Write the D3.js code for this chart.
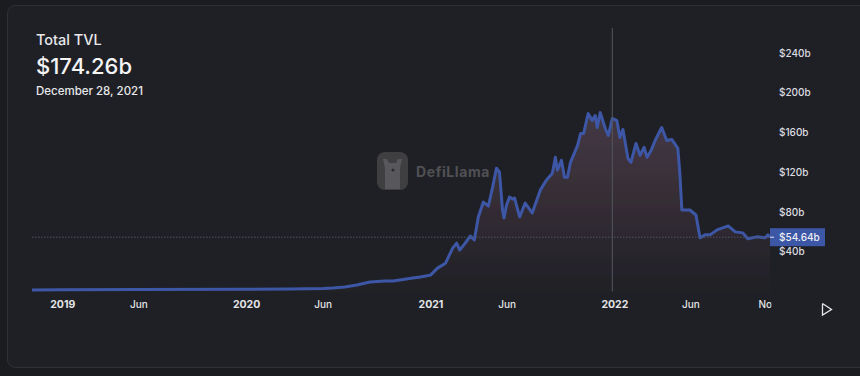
<!DOCTYPE html>
<html><head><meta charset="utf-8">
<script src="https://cdn.jsdelivr.net/npm/d3@7/dist/d3.min.js"></script>
<style>
html,body{margin:0;padding:0;background:#1b1c20;overflow:hidden}
text{font-family:Inter,"Liberation Sans",sans-serif}
</style></head><body><svg id="c" width="860" height="376"></svg>
<script>
const dates = ["2018-11-02","2019-01-01","2019-06-01","2020-01-01","2020-03-28","2020-06-02","2020-06-21","2020-07-15","2020-08-08","2020-09-03","2020-10-03","2020-10-19","2020-11-27","2020-12-12",
"2021-01-01","2021-01-07","2021-01-15","2021-01-31","2021-02-14","2021-02-22","2021-02-28","2021-03-11","2021-03-21","2021-03-29","2021-04-06","2021-04-16","2021-04-26","2021-05-04","2021-05-12","2021-05-18","2021-05-24","2021-05-27","2021-06-01","2021-06-07","2021-06-13","2021-06-17","2021-06-27","2021-07-08","2021-07-22","2021-08-07","2021-08-19","2021-08-31","2021-09-06","2021-09-10","2021-09-18","2021-09-24","2021-09-30","2021-10-06","2021-10-20","2021-10-26","2021-11-01","2021-11-10","2021-11-18","2021-11-24","2021-11-28","2021-12-04","2021-12-14","2021-12-20","2021-12-28",
"2022-01-06","2022-01-12","2022-01-18","2022-01-28","2022-02-03","2022-02-13","2022-02-21","2022-03-01","2022-03-07","2022-03-15","2022-03-23","2022-04-05","2022-04-15","2022-04-25","2022-05-07","2022-05-11","2022-05-15","2022-05-31","2022-06-12","2022-06-20","2022-06-30","2022-07-10","2022-07-24","2022-08-15","2022-08-29","2022-09-13","2022-09-23","2022-10-11","2022-10-27","2022-11-02","2022-11-06"];
const tvl = [1.5,1.7,2.0,2.2,2.5,3.0,3.5,4.5,6.5,9.5,10.5,10.5,13.5,14.5,
16.5,19.5,23.5,28.5,43.7,48.7,41.7,48.7,55.8,51.8,74.9,90,86,104,124.1,120,82,74,87,95,93,94,75,89,79,102,112,119,135,122,132,115,115,130,147,159,159,179,172,177,165,180,164,157,174.26,
172,155,163,134,130,149,137,145,135,142,152,165,152,153,144,119,82,82,77,54,57,57,62,66,60,59,53,55,54,57,54.64];
const yTicks = [40,80,120,160,200,240];
const xTickDates = ["2019-01-01","2019-06-01","2020-01-01","2020-06-01","2021-01-01","2021-06-01","2022-01-01","2022-06-01","2022-11-01"];
const xTickLabels = ["2019","Jun","2020","Jun","2021","Jun","2022","Jun","Nov"];
const title = "Total TVL", headline = "$174.26b", headDate = "December 28, 2021";
const hoverDate = "2021-12-28", lastValue = 54.64, lastLabel = "$54.64b";

const parse = d3.utcParse("%Y-%m-%d");
const data = dates.map((d,i)=>({d:parse(d),v:tvl[i]}));
const svg = d3.select("#c");
const L=32,R=770,T=28,B=291.5;
const x = d3.scaleUtc().domain([parse(dates[0]),parse(dates[dates.length-1])]).range([L,R]);
const y = d3.scaleLinear().domain([0,240]).range([B,53]);

const defs = svg.append("defs");
const g = defs.append("linearGradient").attr("id","ag").attr("gradientUnits","userSpaceOnUse")
  .attr("x1",0).attr("x2",0).attr("y1",y(180)).attr("y2",B);
g.append("stop").attr("offset",0).attr("stop-color","#443944");
g.append("stop").attr("offset",0.5).attr("stop-color","#352d35");
g.append("stop").attr("offset",1).attr("stop-color","#202026");
defs.append("clipPath").attr("id","xc").append("rect").attr("x",L).attr("y",0).attr("width",R-L+1.5).attr("height",30);
defs.append("filter").attr("id","soft").append("feGaussianBlur").attr("stdDeviation",0.5);

svg.append("rect").attr("x",7.5).attr("y",5.5).attr("width",880).attr("height",362).attr("rx",8)
  .attr("fill","#1f2026").attr("stroke","#303136");

// watermark
const wm = svg.append("g");
wm.append("rect").attr("x",377).attr("y",152).attr("width",31).attr("height",38).attr("rx",8).attr("fill","#3f3f42");
wm.append("path").attr("d","M385 189V168L383 159H387L389 163H396L398 159H402L400 168V189Z").attr("fill","#58585c");
wm.append("circle").attr("cx",393).attr("cy",170).attr("r",1.5).attr("fill","#2c2c30");
wm.append("text").attr("x",416).attr("y",177).attr("font-size",14).attr("font-weight",700).attr("letter-spacing",0.6).attr("fill","#515155").text("DefiLlama");

// area + line
const plot = svg.append("g").attr("filter","url(#soft)");
plot.append("path").datum(data).attr("fill","url(#ag)")
  .attr("d",d3.area().x(d=>x(d.d)).y0(B).y1(d=>y(d.v)));
svg.append("line").attr("x1",L).attr("x2",R).attr("y1",y(lastValue)).attr("y2",y(lastValue))
  .attr("stroke","#4e5468").attr("stroke-dasharray","1.5 1.5");
plot.append("path").datum(data).attr("fill","none").attr("stroke","#3c57a6").attr("stroke-width",3)
  .attr("stroke-linejoin","round").attr("d",d3.line().x(d=>x(d.d)).y(d=>y(d.v)));

// crosshair
const hx = x(parse(hoverDate));
svg.append("line").attr("x1",hx).attr("x2",hx).attr("y1",T).attr("y2",B).attr("stroke","#55565c");

// x axis
const xAxis = d3.axisBottom(x).tickValues(xTickDates.map(parse)).tickSize(0).tickPadding(9)
  .tickFormat((d,i)=>xTickLabels[i]);
const xg = svg.append("g").attr("transform",`translate(0,${B})`).attr("clip-path","url(#xc)").call(xAxis);
xg.select(".domain").remove();
xg.selectAll("text").attr("fill","#e4e5e7").attr("font-size",d=>d.getUTCMonth()===0?10.5:10)
  .attr("font-weight",d=>d.getUTCMonth()===0?700:500);

// y axis
const yAxis = d3.axisRight(y).tickValues(yTicks).tickSize(0).tickPadding(9).tickFormat(d=>`$${d}b`);
const yg = svg.append("g").attr("transform",`translate(${R},0)`).call(yAxis);
yg.select(".domain").remove();
yg.selectAll("text").attr("fill","#dcdde0").attr("font-size",10).attr("font-weight",500);

// last-value tag
const ly = y(lastValue);
svg.append("rect").attr("x",R).attr("y",ly-9).attr("width",55).attr("height",18).attr("fill","#3c57a6");
svg.append("line").attr("x1",R).attr("x2",R+4).attr("y1",ly).attr("y2",ly).attr("stroke","#e6e8ee");
svg.append("text").attr("x",R+9).attr("y",ly+4).attr("font-size",10).attr("font-weight",500).attr("fill","#eef0f5").text(lastLabel);

// play button
svg.append("path").attr("d",d3.line()([[822.5,303.5],[831.5,309.5],[822.5,315],[822.5,303.5]]))
  .attr("fill","none").attr("stroke","#e4e5e7").attr("stroke-width",1.3);

// header
svg.append("text").attr("x",36).attr("y",45).attr("font-size",14.5).attr("font-weight",500).attr("fill","#e8e8ea").text(title);
svg.append("text").attr("x",36).attr("y",74).attr("font-size",22).attr("font-weight",500).attr("fill","#f4f4f5").text(headline);
svg.append("text").attr("x",36).attr("y",95).attr("font-size",11.5).attr("font-weight",500).attr("fill","#e8e8ea").text(headDate);
</script></body></html>
